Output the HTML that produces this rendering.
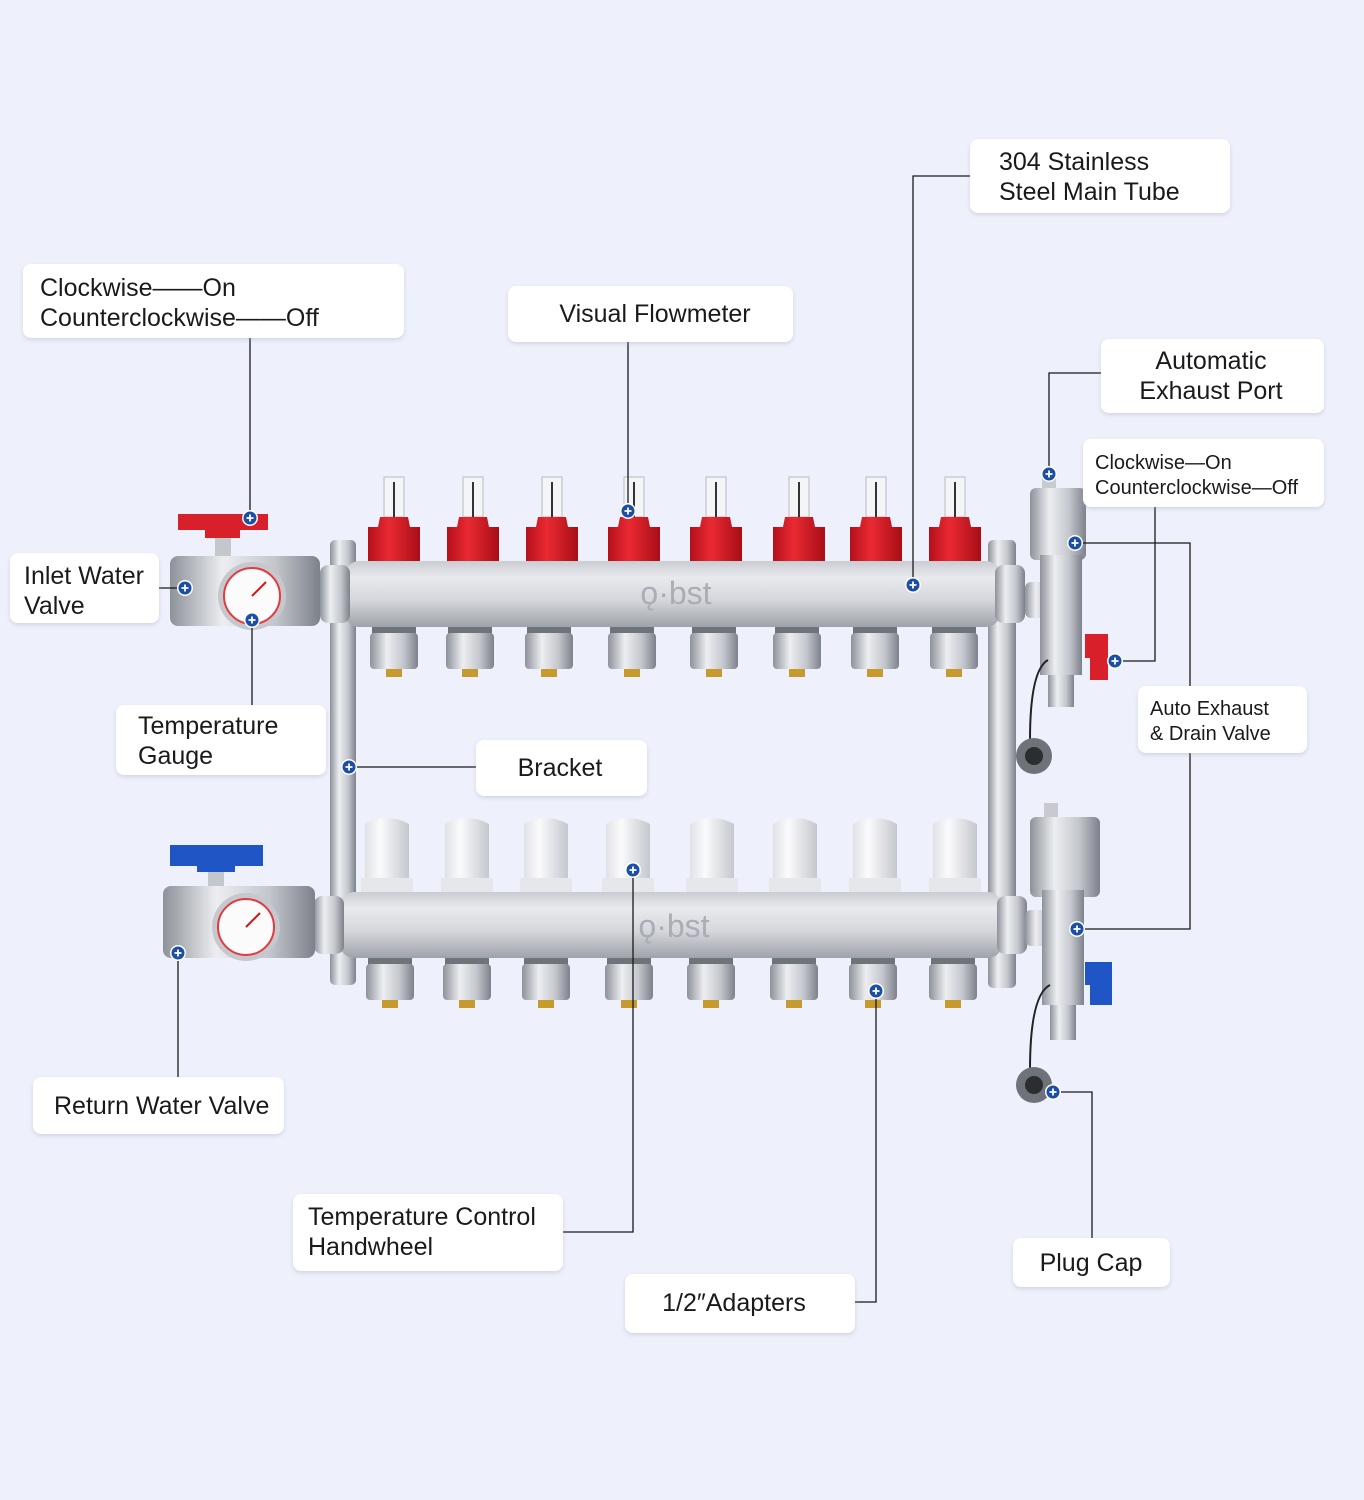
<!DOCTYPE html>
<html><head><meta charset="utf-8"><style>
html,body{margin:0;padding:0;background:#eef1fb}
svg{display:block}
text{font-family:"Liberation Sans",sans-serif;fill:#1a1a1a}
</style></head><body>
<svg width="1364" height="1500" viewBox="0 0 1364 1500" xmlns="http://www.w3.org/2000/svg">
<defs>
<linearGradient id="bar" x1="0" y1="0" x2="0" y2="1">
<stop offset="0" stop-color="#c9ccd2"/><stop offset="0.25" stop-color="#e9eaee"/><stop offset="0.6" stop-color="#d4d6db"/><stop offset="1" stop-color="#9ea2aa"/></linearGradient>
<linearGradient id="met" x1="0" y1="0" x2="1" y2="0">
<stop offset="0" stop-color="#8d9199"/><stop offset="0.35" stop-color="#eceef1"/><stop offset="0.7" stop-color="#c3c6cc"/><stop offset="1" stop-color="#7d818a"/></linearGradient>
<linearGradient id="red" x1="0" y1="0" x2="1" y2="0">
<stop offset="0" stop-color="#b4101b"/><stop offset="0.4" stop-color="#ea2a33"/><stop offset="1" stop-color="#a80d16"/></linearGradient>
<linearGradient id="wht" x1="0" y1="0" x2="1" y2="0">
<stop offset="0" stop-color="#d9dbe0"/><stop offset="0.4" stop-color="#fbfbfc"/><stop offset="1" stop-color="#c4c7cd"/></linearGradient>
<filter id="sh" x="-10%" y="-20%" width="120%" height="150%"><feDropShadow dx="0" dy="2" stdDeviation="2" flood-color="#9aa0b8" flood-opacity="0.35"/></filter>
<g id="dot"><circle r="8" fill="#fff"/><circle r="6.5" fill="#1d4ea6"/><path d="M-3.5 0H3.5M0 -3.5V3.5" stroke="#fff" stroke-width="1.8"/></g>
<g id="fm">
<rect x="-10" y="-85" width="20" height="40" fill="#f4f5f7" stroke="#b9bcc2"/>
<line x1="0" y1="-80" x2="0" y2="-45" stroke="#333" stroke-width="2"/>
<path d="M-14 -45H14L16 -35H26V0H-26V-35H-16Z" fill="url(#red)"/>
</g>
<g id="ft">
<rect x="-22" y="0" width="44" height="10" fill="#6f737a"/>
<rect x="-24" y="8" width="48" height="36" rx="4" fill="url(#met)"/>
<rect x="-8" y="44" width="16" height="8" fill="#c79a2e"/>
</g>
<g id="hw">
<path d="M-22 -68Q0 -80 22 -68V0H-26V-10H-22Z" fill="url(#wht)"/>
<rect x="-26" y="-14" width="52" height="14" fill="#e5e7ea"/>
</g>
</defs>

<!-- brackets -->
<rect x="330" y="540" width="26" height="445" rx="5" fill="url(#met)"/>
<rect x="988" y="540" width="28" height="448" rx="5" fill="url(#met)"/>

<!-- top manifold -->
<g transform="translate(0,562)">
<use href="#fm" x="394"/><use href="#fm" x="473"/><use href="#fm" x="552"/><use href="#fm" x="634"/>
<use href="#fm" x="716"/><use href="#fm" x="799"/><use href="#fm" x="876"/><use href="#fm" x="955"/>
</g>
<g transform="translate(0,625)">
<use href="#ft" x="394"/><use href="#ft" x="470"/><use href="#ft" x="549"/><use href="#ft" x="632"/>
<use href="#ft" x="714"/><use href="#ft" x="797"/><use href="#ft" x="875"/><use href="#ft" x="954"/>
</g>
<rect x="345" y="561" width="655" height="66" rx="14" fill="url(#bar)"/>
<text x="676" y="604" font-size="32" text-anchor="middle" style="fill:#a9adb4">ǫ·bst</text>
<rect x="320" y="565" width="30" height="58" rx="8" fill="url(#met)"/>
<rect x="995" y="565" width="30" height="58" rx="8" fill="url(#met)"/>

<!-- bottom manifold -->
<g transform="translate(0,892)">
<use href="#hw" x="387"/><use href="#hw" x="467"/><use href="#hw" x="546"/><use href="#hw" x="628"/>
<use href="#hw" x="712"/><use href="#hw" x="795"/><use href="#hw" x="875"/><use href="#hw" x="955"/>
</g>
<g transform="translate(0,956)">
<use href="#ft" x="390"/><use href="#ft" x="467"/><use href="#ft" x="546"/><use href="#ft" x="629"/>
<use href="#ft" x="711"/><use href="#ft" x="794"/><use href="#ft" x="873"/><use href="#ft" x="953"/>
</g>
<rect x="340" y="892" width="662" height="66" rx="14" fill="url(#bar)"/>
<text x="674" y="937" font-size="32" text-anchor="middle" style="fill:#a9adb4">ǫ·bst</text>
<rect x="314" y="896" width="30" height="58" rx="8" fill="url(#met)"/>
<rect x="997" y="896" width="30" height="58" rx="8" fill="url(#met)"/>

<!-- inlet valve -->
<rect x="215" y="530" width="16" height="30" fill="#c4c7cc"/>
<path d="M178 514H268V530H240V538H205V530H178Z" fill="#d8202b"/>
<rect x="170" y="556" width="150" height="70" rx="8" fill="url(#met)"/>
<circle cx="252" cy="596" r="34" fill="#c5c8cd"/><circle cx="252" cy="596" r="28" fill="#fbfbfb" stroke="#e23a40" stroke-width="2"/>
<line x1="252" y1="596" x2="266" y2="582" stroke="#d11" stroke-width="2"/>
<!-- return valve -->
<rect x="208" y="862" width="16" height="30" fill="#c4c7cc"/>
<path d="M170 845H263V866H235V872H197V866H170Z" fill="#1f55c4"/>
<rect x="163" y="886" width="152" height="72" rx="8" fill="url(#met)"/>
<circle cx="246" cy="927" r="34" fill="#c5c8cd"/><circle cx="246" cy="927" r="28" fill="#fbfbfb" stroke="#e23a40" stroke-width="2"/>
<line x1="246" y1="927" x2="260" y2="913" stroke="#d11" stroke-width="2"/>

<!-- right top assembly -->
<rect x="1042" y="478" width="14" height="12" fill="#c8cad0"/>
<rect x="1030" y="488" width="56" height="72" rx="6" fill="url(#met)"/>
<rect x="1025" y="582" width="30" height="36" rx="6" fill="url(#met)"/>
<rect x="1040" y="555" width="42" height="120" fill="url(#met)"/>
<rect x="1048" y="675" width="26" height="32" fill="url(#met)"/>
<path d="M1085 634H1108V680H1090V658H1085Z" fill="#d8202b"/>
<path d="M1048 660Q1030 670 1030 740" stroke="#222" stroke-width="2" fill="none"/>
<circle cx="1034" cy="756" r="18" fill="#6e7279"/><circle cx="1034" cy="756" r="9" fill="#2b2d31"/>
<!-- right bottom assembly -->
<rect x="1044" y="803" width="14" height="14" fill="#c8cad0"/>
<rect x="1030" y="817" width="70" height="80" rx="6" fill="url(#met)"/>
<rect x="1025" y="910" width="30" height="36" rx="6" fill="url(#met)"/>
<rect x="1042" y="890" width="42" height="115" fill="url(#met)"/>
<rect x="1050" y="1005" width="26" height="35" fill="url(#met)"/>
<path d="M1085 962H1112V1005H1090V985H1085Z" fill="#1f55c4"/>
<path d="M1050 985Q1030 995 1030 1070" stroke="#222" stroke-width="2" fill="none"/>
<circle cx="1034" cy="1085" r="18" fill="#6e7279"/><circle cx="1034" cy="1085" r="9" fill="#2b2d31"/>

<!-- leader lines -->
<g stroke="#1a1a1a" stroke-width="1.3" fill="none">
<path d="M913 585V176H970"/>
<path d="M250 518V338"/>
<path d="M628 511V342"/>
<path d="M1049 474V373H1101"/>
<path d="M1115 661H1155V507"/>
<path d="M1075 543H1190V929H1077"/>
<path d="M185 588H159"/>
<path d="M252 620V705"/>
<path d="M349 767H476"/>
<path d="M178 953V1077"/>
<path d="M633 870V1232H563"/>
<path d="M876 991V1302H855"/>
<path d="M1053 1092H1092V1238"/>
</g>
<g>
<use href="#dot" x="913" y="585"/><use href="#dot" x="250" y="518"/><use href="#dot" x="628" y="511"/>
<use href="#dot" x="1049" y="474"/><use href="#dot" x="1115" y="661"/><use href="#dot" x="1075" y="543"/>
<use href="#dot" x="1077" y="929"/><use href="#dot" x="185" y="588"/><use href="#dot" x="252" y="620"/>
<use href="#dot" x="349" y="767"/><use href="#dot" x="178" y="953"/><use href="#dot" x="633" y="870"/>
<use href="#dot" x="876" y="991"/><use href="#dot" x="1053" y="1092"/>
</g>

<!-- labels -->
<g fill="#fff" filter="url(#sh)">
<rect x="970" y="139" width="260" height="74" rx="8"/>
<rect x="23" y="264" width="381" height="74" rx="8"/>
<rect x="508" y="286" width="285" height="56" rx="8"/>
<rect x="1101" y="339" width="223" height="74" rx="8"/>
<rect x="1083" y="439" width="241" height="68" rx="8"/>
<rect x="10" y="553" width="149" height="70" rx="8"/>
<rect x="116" y="705" width="210" height="70" rx="8"/>
<rect x="476" y="740" width="171" height="56" rx="8"/>
<rect x="1138" y="686" width="169" height="67" rx="8"/>
<rect x="33" y="1077" width="251" height="57" rx="8"/>
<rect x="293" y="1194" width="270" height="77" rx="8"/>
<rect x="625" y="1274" width="230" height="59" rx="8"/>
<rect x="1013" y="1238" width="157" height="49" rx="8"/>
</g>
<g font-size="25">
<text x="999" y="170">304 Stainless</text><text x="999" y="200">Steel Main Tube</text>
<text x="40" y="296">Clockwise——On</text><text x="40" y="326">Counterclockwise——Off</text>
<text x="655" y="322" text-anchor="middle">Visual Flowmeter</text>
<text x="1211" y="369" text-anchor="middle">Automatic</text><text x="1211" y="399" text-anchor="middle">Exhaust Port</text>
<text x="24" y="584">Inlet Water</text><text x="24" y="614">Valve</text>
<text x="138" y="734">Temperature</text><text x="138" y="764">Gauge</text>
<text x="560" y="776" text-anchor="middle">Bracket</text>
<text x="54" y="1114">Return Water Valve</text>
<text x="308" y="1225">Temperature Control</text><text x="308" y="1255">Handwheel</text>
<text x="734" y="1311" text-anchor="middle">1/2″Adapters</text>
<text x="1091" y="1271" text-anchor="middle">Plug Cap</text>
</g>
<g font-size="20">
<text x="1095" y="469">Clockwise—On</text><text x="1095" y="494">Counterclockwise—Off</text>
<text x="1150" y="715">Auto Exhaust</text><text x="1150" y="740">&amp; Drain Valve</text>
</g>
</svg>
</body></html>
